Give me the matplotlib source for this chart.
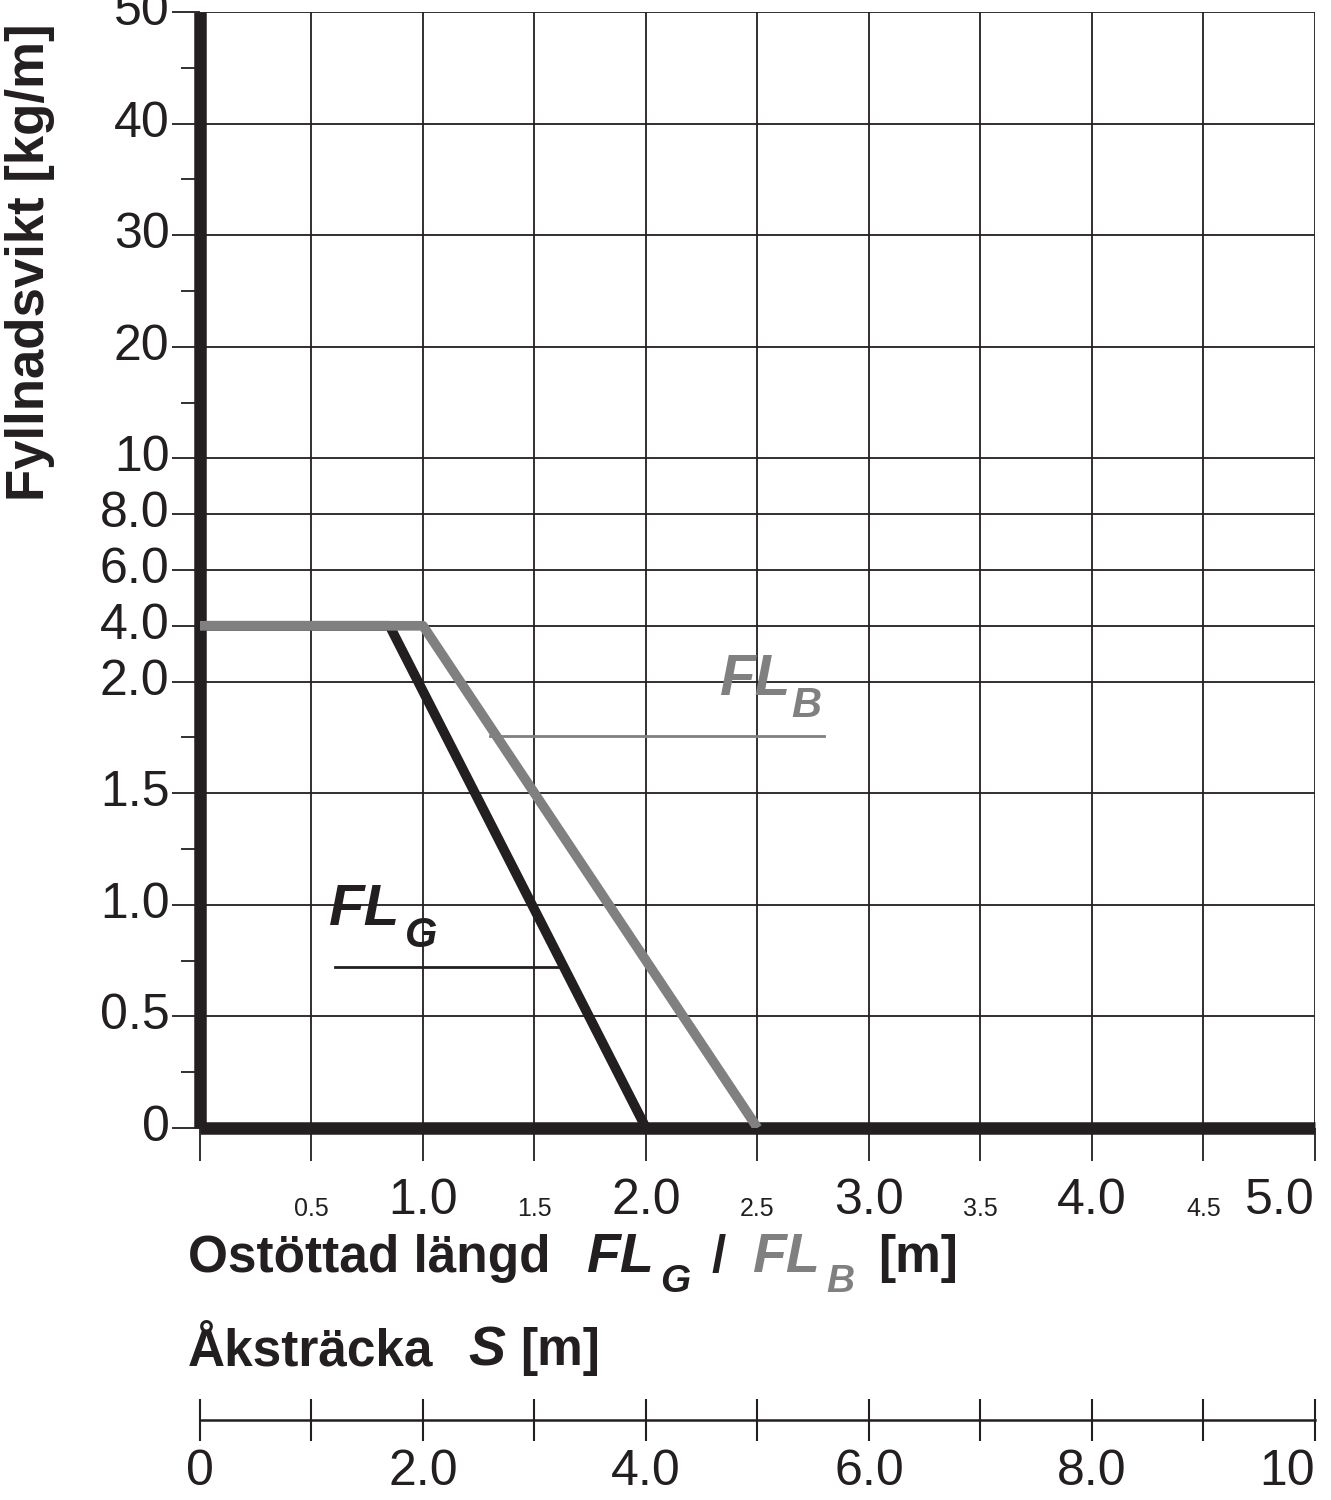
import matplotlib
matplotlib.use("Agg")
import matplotlib.pyplot as plt
import numpy as np

plt.rcParams['font.family'] = ['Liberation Sans', 'DejaVu Sans']

y_values = [0, 0.5, 1.0, 1.5, 2.0, 4.0, 6.0, 8.0, 10, 20, 30, 40, 50]
y_labels = ["0", "0.5", "1.0", "1.5", "2.0", "4.0", "6.0", "8.0", "10", "20", "30", "40", "50"]
y_pos = [0, 1, 2, 3, 4, 4.5, 5, 5.5, 6, 7, 8, 9, 10]
x_major = [1.0, 2.0, 3.0, 4.0, 5.0]
x_major_labels = ["1.0", "2.0", "3.0", "4.0", "5.0"]
x_minor = [0.5, 1.5, 2.5, 3.5, 4.5]
x_minor_labels = ["0.5", "1.5", "2.5", "3.5", "4.5"]
s_ticks = [0, 1, 2, 3, 4, 5, 6, 7, 8, 9, 10]
s_labels = ["0", "", "2.0", "", "4.0", "", "6.0", "", "8.0", "", "10"]
flg_x = [0, 0.85, 2.0]
flg_y = [4.0, 4.0, 0]
flb_x = [0, 1.0, 2.5]
flb_y = [4.0, 4.0, 0]

BLACK = "#231f20"
GREY = "#808080"

def ymap(v):
    return np.interp(v, y_values, y_pos)

fig = plt.figure(figsize=(13.31, 15), dpi=100)
ax = fig.add_axes([200/1331, 1-1128/1500, 1115/1331, 1116/1500])
ax.set_xlim(0, 5)
ax.set_ylim(0, 10)

for p in y_pos:
    ax.axhline(p, color=BLACK, lw=1.3, zorder=1)
for x in np.arange(0.5, 5.01, 0.5):
    ax.axvline(x, color=BLACK, lw=1.3, zorder=1)

ax.plot(flg_x, ymap(flg_y), color=BLACK, lw=7, solid_capstyle='butt', zorder=2)
ax.plot(flb_x, ymap(flb_y), color=GREY, lw=7, solid_capstyle='butt', zorder=3)

ax.plot([1.30, 2.80], [3.51, 3.51], color=GREY, lw=2, zorder=2)
ax.plot([0.605, 1.605], [1.44, 1.44], color=BLACK, lw=2, zorder=2)
ax.text(2.33, 3.88, "FL", color=GREY, fontsize=42, fontweight='bold', fontstyle='italic')
ax.text(2.65, 3.68, "B", color=GREY, fontsize=30, fontweight='bold', fontstyle='italic')
ax.text(0.58, 1.82, "FL", color=BLACK, fontsize=42, fontweight='bold', fontstyle='italic')
ax.text(0.92, 1.62, "G", color=BLACK, fontsize=30, fontweight='bold', fontstyle='italic')

for s in ['top', 'right']:
    ax.spines[s].set_visible(False)
for s in ['left', 'bottom']:
    ax.spines[s].set_linewidth(9)
    ax.spines[s].set_color(BLACK)
    ax.spines[s].set_capstyle('butt')

ax.set_yticks(y_pos)
ax.set_yticklabels(y_labels, fontsize=36, color=BLACK)
ax.set_yticks([0.5, 1.5, 2.5, 3.5, 6.5, 7.5, 8.5, 9.5], minor=True)
ax.tick_params(axis='y', which='major', length=20, width=1.3, pad=2, color=BLACK)
ax.tick_params(axis='y', which='minor', length=14, width=1.3, color=BLACK)
for t in ax.get_yticklabels():
    t.set_va('center')

ax.set_xticks(x_major)
ax.set_xticklabels(x_major_labels, fontsize=36, color=BLACK)
ax.set_xticks([0] + x_minor, minor=True)
ax.set_xticklabels([""] + x_minor_labels, minor=True, fontsize=18, color=BLACK)
ax.tick_params(axis='x', which='both', length=24, width=1.3, pad=12, color=BLACK)
ax.tick_params(axis='x', which='minor', pad=26)
ax.get_xticklabels()[-1].set_ha('right')
ax.get_xticklabels()[-1].set_x(5.0)

fig.text(30/1331, 1-262/1500, "Fyllnadsvikt [kg/m]", rotation=90, fontsize=38,
         fontweight='bold', ha='center', va='center', color=BLACK)

yb = 1-1272/1500
fig.text(188/1331, yb, "Ostöttad längd", fontsize=37, fontweight='bold', color=BLACK)
fig.text(586/1331, yb, "FL", fontsize=40, fontweight='bold', fontstyle='italic', color=BLACK)
fig.text(660/1331, yb-20/1500, "G", fontsize=28, fontweight='bold', fontstyle='italic', color=BLACK)
fig.text(712/1331, yb, "/", fontsize=37, fontweight='bold', color=BLACK)
fig.text(752/1331, yb, "FL", fontsize=40, fontweight='bold', fontstyle='italic', color=GREY)
fig.text(826/1331, yb-20/1500, "B", fontsize=28, fontweight='bold', fontstyle='italic', color=GREY)
fig.text(878/1331, yb, "[m]", fontsize=37, fontweight='bold', color=BLACK)

yb2 = 1-1365/1500
fig.text(188/1331, yb2, "Åksträcka", fontsize=37, fontweight='bold', color=BLACK)
fig.text(468/1331, yb2, "S", fontsize=40, fontweight='bold', fontstyle='italic', color=BLACK)
fig.text(520/1331, yb2, "[m]", fontsize=37, fontweight='bold', color=BLACK)

ax2 = fig.add_axes([200/1331, 1-1420/1500, 1115/1331, 0.0001])
ax2.set_xlim(0, 10)
ax2.set_ylim(0, 1)
for s in ['top', 'right', 'left']:
    ax2.spines[s].set_visible(False)
ax2.spines['bottom'].set_linewidth(1.8)
ax2.spines['bottom'].set_color(BLACK)
ax2.set_yticks([])
ax2.set_xticks(s_ticks)
ax2.set_xticklabels(s_labels, fontsize=36, color=BLACK)
ax2.tick_params(axis='x', direction='inout', length=30, width=1.5, pad=6, color=BLACK)
ax2.get_xticklabels()[-1].set_ha('right')

fig.savefig("out.png", dpi=100)
